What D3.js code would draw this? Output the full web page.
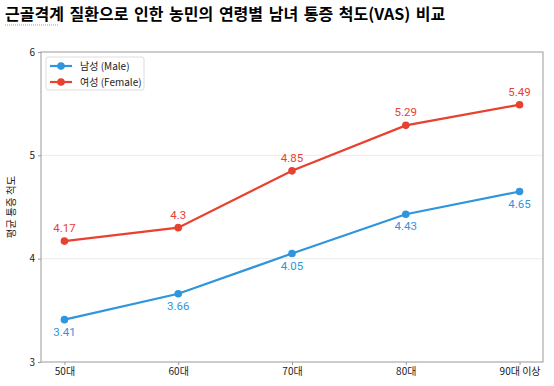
<!DOCTYPE html>
<html>
<head>
<meta charset="utf-8">
<script src="https://cdn.jsdelivr.net/npm/d3@7"></script>
<style>
  body { margin: 0; background: #fff; }
  svg { display: block; font-family: "Noto Sans CJK KR", "Noto Sans", sans-serif; }
</style>
</head>
<body>
<div id="chart"></div>
<script>
/* line chart: pain score (VAS) by age group and sex */

const ages = ["50대", "60대", "70대", "80대", "90대 이상"];
const male = [3.41, 3.66, 4.05, 4.43, 4.65];
const female = [4.17, 4.3, 4.85, 5.29, 5.49];
const yTicks = [3, 4, 5, 6];

const width = 554,
      height = 386,
      margin = ({top: 52, right: 11, bottom: 24, left: 41});

let svg = d3.select("#chart")
    .append("svg")
    .attr("width", width)
    .attr("height", height);

// title
let title = svg.append("text")
    .attr("x", 5)
    .attr("y", 20)
    .style("font-size", "16px")
    .style("font-weight", "bold")
    .style("word-spacing", "2px")
    .style("fill", "#000");
title.append("tspan").text("근골격계");
title.append("tspan").text(" 질환으로 인한 농민의 연령별 남녀 통증 척도(VAS) 비교");

// squiggle under the first word
svg.append("line")
    .attr("x1", 5).attr("x2", 58)
    .attr("y1", 25).attr("y2", 25)
    .attr("stroke", "#e8902a")
    .attr("stroke-width", 1)
    .attr("stroke-dasharray", "1,1");

let x = d3.scalePoint()
    .domain(ages)
    .range([margin.left, width - margin.right])
    .padding(0.206);

let y = d3.scaleLinear()
    .domain([3, 6])
    .range([height - margin.bottom, margin.top]);

// grid
svg.append("g")
    .selectAll("line")
    .data([4, 5])
    .join("line")
    .attr("x1", margin.left)
    .attr("x2", width - margin.right)
    .attr("y1", d => y(d))
    .attr("y2", d => y(d))
    .attr("stroke", "#ececec")
    .attr("stroke-width", 1);

// frame
svg.append("rect")
    .attr("x", margin.left)
    .attr("y", margin.top)
    .attr("width", width - margin.left - margin.right)
    .attr("height", height - margin.top - margin.bottom)
    .attr("fill", "none")
    .attr("stroke", "#999")
    .attr("stroke-width", 1);

let xAxis = svg.append("g")
    .attr("transform", `translate(0, ${height - margin.bottom})`)
    .call(d3.axisBottom(x).tickSize(3).tickPadding(3));

let yAxis = svg.append("g")
    .attr("transform", `translate(${margin.left},0)`)
    .call(d3.axisLeft(y).tickValues(yTicks).tickFormat(d3.format("d")).tickSize(3).tickPadding(3));

for (let a of [xAxis, yAxis]) {
    a.select(".domain").remove();
    a.selectAll(".tick line").attr("stroke", "#999");
    a.selectAll(".tick text")
        .style("font-size", "10px")
        .style("fill", "#222")
        .style("font-family", '"Noto Sans CJK KR", sans-serif');
}

// y label
svg.append("text")
    .attr("transform", `translate(15, ${(margin.top + height - margin.bottom) / 2}) rotate(-90)`)
    .attr("text-anchor", "middle")
    .style("font-size", "10.5px")
    .style("fill", "#222")
    .text("평균 통증 척도");

const series = [
    {name: "남성 (Male)", values: male, color: "#2f95dc", dy: 16},
    {name: "여성 (Female)", values: female, color: "#e8412f", dy: -9}
];

let line = d3.line()
    .x((d, i) => x(ages[i]))
    .y(d => y(d));

for (let s of series) {
    let g = svg.append("g");

    g.append("path")
        .datum(s.values)
        .attr("fill", "none")
        .attr("stroke", s.color)
        .attr("stroke-width", 2.2)
        .attr("d", line);

    g.selectAll("circle")
        .data(s.values)
        .join("circle")
        .attr("cx", (d, i) => x(ages[i]))
        .attr("cy", d => y(d))
        .attr("r", 3.8)
        .attr("fill", s.color);

    g.selectAll(".lbl")
        .data(s.values)
        .join("text")
        .attr("class", "lbl")
        .attr("x", (d, i) => x(ages[i]))
        .attr("y", d => y(d) + s.dy)
        .attr("text-anchor", "middle")
        .style("font-size", "11.5px")
        .style("fill", s.color)
        .style("font-family", "Roboto, sans-serif")
        .text(d => d);
}

// legend
let legend = svg.append("g")
    .attr("transform", `translate(${margin.left + 5}, ${margin.top + 5})`);

legend.append("rect")
    .attr("width", 98)
    .attr("height", 33)
    .attr("rx", 2)
    .attr("fill", "#fff")
    .attr("stroke", "#ddd");

series.forEach((s, i) => {
    let row = legend.append("g")
        .attr("transform", `translate(4, ${9 + i * 16})`);
    row.append("line")
        .attr("x1", 0).attr("x2", 22)
        .attr("stroke", s.color)
        .attr("stroke-width", 2.2);
    row.append("circle")
        .attr("cx", 11)
        .attr("r", 3.8)
        .attr("fill", s.color);
    row.append("text")
        .attr("x", 30)
        .attr("y", 4)
        .style("font-size", "10px")
        .style("fill", "#222")
        .text(s.name);
});
</script>
</body>
</html>
